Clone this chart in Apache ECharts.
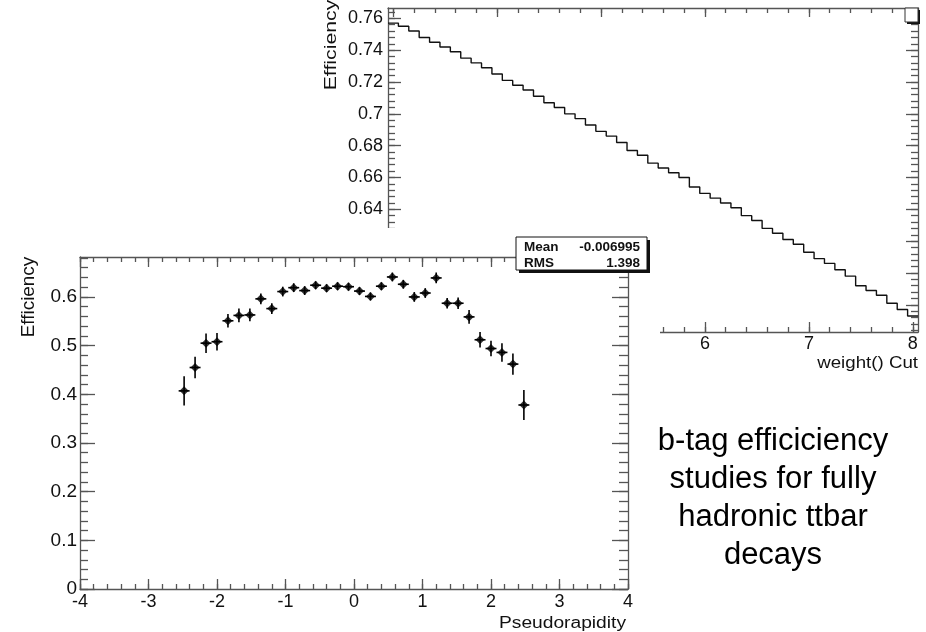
<!DOCTYPE html>
<html><head><meta charset="utf-8">
<script src="https://cdn.jsdelivr.net/npm/echarts@6/dist/echarts.min.js"></script>
<style>html,body{margin:0;padding:0;background:#fff}#c{width:926px;height:632px}</style>
</head><body><div id="c"></div>
<script>
// ---- Top plot: Efficiency vs weight() Cut (histogram, bin width 0.1) ----
const weightCenters = [3.0,3.1,3.2,3.3,3.4,3.5,3.6,3.7,3.8,3.9,4.0,4.1,4.2,4.3,4.4,4.5,4.6,4.7,4.8,4.9,
  5.0,5.1,5.2,5.3,5.4,5.5,5.6,5.7,5.8,5.9,6.0,6.1,6.2,6.3,6.4,6.5,6.6,6.7,6.8,6.9,
  7.0,7.1,7.2,7.3,7.4,7.5,7.6,7.7,7.8,7.9,8.0];
const weightEff = [0.757,0.755,0.752,0.748,0.745,0.742,0.739,0.735,0.732,0.729,0.725,0.721,0.718,0.715,0.711,0.707,0.704,0.700,0.697,0.693,
  0.689,0.686,0.682,0.677,0.674,0.669,0.666,0.663,0.660,0.654,0.650,0.647,0.644,0.641,0.636,0.633,0.628,0.625,0.621,0.618,
  0.613,0.609,0.606,0.602,0.598,0.592,0.589,0.586,0.581,0.577,0.573];
const weightBinHalf = 0.05;
const weightXTicks = [3,4,5,6,7,8];
const weightYTicks = [0.58,0.6,0.62,0.64,0.66,0.68,0.7,0.72,0.74,0.76];

// ---- Bottom plot: Efficiency vs Pseudorapidity ----
const etaCenters = [-2.48,-2.32,-2.16,-2.00,-1.84,-1.68,-1.52,-1.36,-1.20,-1.04,-0.88,-0.72,-0.56,-0.40,-0.24,-0.08,
  0.08,0.24,0.40,0.56,0.72,0.88,1.04,1.20,1.36,1.52,1.68,1.84,2.00,2.16,2.32,2.48];
const etaEff = [0.407,0.455,0.505,0.508,0.551,0.562,0.563,0.596,0.576,0.611,0.619,0.613,0.624,0.618,0.622,0.621,
  0.612,0.601,0.622,0.641,0.626,0.600,0.608,0.639,0.587,0.587,0.559,0.512,0.494,0.486,0.462,0.378];
const etaErr = [0.030,0.022,0.020,0.018,0.014,0.014,0.013,0.011,0.011,0.010,0.009,0.009,0.008,0.008,0.008,0.008,
  0.008,0.008,0.008,0.009,0.009,0.010,0.010,0.011,0.011,0.012,0.014,0.016,0.016,0.019,0.022,0.031];
const etaBinHalf = 0.08;
const etaXTicks = [-4,-3,-2,-1,0,1,2,3,4];
const etaYTicks = [0,0.1,0.2,0.3,0.4,0.5,0.6];

const statNames = ['Mean','RMS'];
const statValues = ['-0.006995','1.398'];
const noteLines = ['b-tag efficiciency','studies for fully','hadronic ttbar','decays'];

const FONT = '"Liberation Sans", Arial, Helvetica, sans-serif';
const AX = '#555';

function range(a, b, div) { const r = []; for (let k = a; k <= b; k++) r.push(k / div); return r; }
const wXMinor = range(15, 40, 5);
const wYMinor = range(141, 191, 250);
const eXMinor = range(-20, 20, 5);
const eYMinor = range(0, 34, 50);

const fmt = v => String(+(+v).toFixed(2));

function axis(grid, pos, min, max, ticks, len, main, labelOpt, z) {
  return {
    type: 'value', gridIndex: grid, position: pos, min: min, max: max, z: z,
    axisLine: {show: main, onZero: false, lineStyle: {color: AX, width: 1.3}},
    axisTick: {show: true, inside: true, length: len, customValues: ticks, lineStyle: {color: AX, width: 1.3}},
    axisLabel: labelOpt ? Object.assign({show: true, customValues: ticks, color: '#111', fontFamily: FONT, fontSize: 18, formatter: fmt}, labelOpt) : {show: false},
    splitLine: {show: false}, minorTick: {show: false}, minorSplitLine: {show: false}
  };
}

const W = {xmin: 2.95, xmax: 8.05, ymin: 0.5629, ymax: 0.7665};
const E = {xmin: -4, xmax: 4, ymin: 0, ymax: 0.682};

const xAxes = [
  axis(0, 'bottom', W.xmin, W.xmax, weightXTicks, 10, true, {margin: 3}, 0),
  axis(0, 'bottom', W.xmin, W.xmax, wXMinor, 5, false, null, 0),
  axis(0, 'top', W.xmin, W.xmax, weightXTicks, 9, true, null, 0),
  axis(0, 'top', W.xmin, W.xmax, wXMinor, 5, false, null, 0),
  axis(1, 'bottom', E.xmin, E.xmax, etaXTicks, 10, true, {margin: 4}, 20),
  axis(1, 'bottom', E.xmin, E.xmax, eXMinor, 5, false, null, 20),
  axis(1, 'top', E.xmin, E.xmax, etaXTicks, 10, true, null, 20),
  axis(1, 'top', E.xmin, E.xmax, eXMinor, 5, false, null, 20)
];
const yAxes = [
  axis(0, 'left', W.ymin, W.ymax, weightYTicks, 13, true, {margin: 5}, 0),
  axis(0, 'left', W.ymin, W.ymax, wYMinor, 7, false, null, 0),
  axis(0, 'right', W.ymin, W.ymax, weightYTicks, 12, true, null, 0),
  axis(0, 'right', W.ymin, W.ymax, wYMinor, 7, false, null, 0),
  axis(1, 'left', E.ymin, E.ymax, etaYTicks, 15, true, {margin: 3, fontSize: 19}, 20),
  axis(1, 'left', E.ymin, E.ymax, eYMinor, 8, false, null, 20),
  axis(1, 'right', E.ymin, E.ymax, etaYTicks, 16, true, null, 20),
  axis(1, 'right', E.ymin, E.ymax, eYMinor, 9, false, null, 20)
];

// histogram outline data (step through bin centres, padded to outer bin edges)
const stepData = [[weightCenters[0] - weightBinHalf, weightEff[0]]]
  .concat(weightCenters.map((c, i) => [c, weightEff[i]]))
  .concat([[weightCenters[weightCenters.length - 1] + weightBinHalf, weightEff[weightEff.length - 1]]]);

const etaData = etaCenters.map((c, i) => [c, etaEff[i], etaErr[i]]);

function txt(text, x, y, size, opts) {
  return Object.assign({
    type: 'text', x: x, y: y, z: 40, silent: true,
    style: Object.assign({text: text, fill: '#111', fontFamily: FONT, fontSize: size, align: 'center', verticalAlign: 'middle'}, opts && opts.style || {})
  }, opts && opts.el || {});
}

const graphics = [
  {type: 'rect', z: 10, silent: true, shape: {x: 0, y: 228, width: 660, height: 404}, style: {fill: '#fff'}},
  // stat box
  {type: 'rect', z: 30, silent: true, shape: {x: 519, y: 240, width: 131, height: 33}, style: {fill: '#111'}},
  {type: 'rect', z: 31, silent: true, shape: {x: 516, y: 237, width: 131, height: 33}, style: {fill: '#fff', stroke: '#111', lineWidth: 1}},
  txt(statNames[0], 524, 247, 13.5, {style: {align: 'left', fontWeight: 'bold'}}),
  txt(statValues[0], 640, 247, 13.5, {style: {align: 'right', fontWeight: 'bold'}}),
  txt(statNames[1], 524, 263, 13.5, {style: {align: 'left', fontWeight: 'bold'}}),
  txt(statValues[1], 640, 263, 13.5, {style: {align: 'right', fontWeight: 'bold'}}),
  // corner box top right
  {type: 'rect', z: 30, silent: true, shape: {x: 907, y: 10, width: 13, height: 14}, style: {fill: '#111'}},
  {type: 'rect', z: 31, silent: true, shape: {x: 905, y: 8, width: 13, height: 14}, style: {fill: '#fff', stroke: '#333', lineWidth: 1}},
  // axis titles
  txt('Efficiency', 332, 45, 16, {el: {rotation: Math.PI / 2, scaleX: 1.33}}),
  txt('weight() Cut', 918, 363.5, 17, {style: {align: 'right'}, el: {scaleX: 1.1}}),
  txt('Efficiency', 29, 297, 18, {el: {rotation: Math.PI / 2, scaleX: 1.05}}),
  txt('Pseudorapidity', 626, 623.5, 16, {style: {align: 'right'}, el: {scaleX: 1.2}}),
  // note
  txt(noteLines.join('\n'), 773, 498, 31, {style: {lineHeight: 38, fill: '#000'}})
];

const chart = echarts.init(document.getElementById('c'), null, {renderer: 'canvas'});
chart.setOption({
  animation: false,
  backgroundColor: '#fff',
  grid: [
    {left: 388, top: 8, width: 530, height: 324, containLabel: false, outerBoundsMode: 'none'},
    {left: 80, top: 257, width: 548, height: 332, containLabel: false, outerBoundsMode: 'none'}
  ],
  xAxis: xAxes,
  yAxis: yAxes,
  graphic: graphics,
  series: [
    {type: 'line', xAxisIndex: 0, yAxisIndex: 0, data: stepData, step: 'middle', symbol: 'none',
     lineStyle: {color: '#111', width: 1.4}, z: 2, clip: true},
    {type: 'custom', xAxisIndex: 4, yAxisIndex: 4, data: etaData, z: 21, encode: {x: 0, y: 1},
     renderItem: function (params, api) {
       const x = api.value(0), y = api.value(1), e = api.value(2);
       const t = api.coord([x, y + e]), b = api.coord([x, y - e]);
       const l = api.coord([x - etaBinHalf, y]), r = api.coord([x + etaBinHalf, y]);
       return {type: 'group', children: [
         {type: 'line', shape: {x1: t[0], y1: t[1], x2: b[0], y2: b[1]}, style: {stroke: '#000', lineWidth: 1.6}},
         {type: 'line', shape: {x1: l[0], y1: l[1], x2: r[0], y2: r[1]}, style: {stroke: '#000', lineWidth: 1.6}}
       ]};
     }},
    {type: 'scatter', xAxisIndex: 4, yAxisIndex: 4, data: etaCenters.map((c, i) => [c, etaEff[i]]),
     symbol: 'diamond', symbolSize: 9, itemStyle: {color: '#000'}, z: 22}
  ]
});
</script></body></html>
